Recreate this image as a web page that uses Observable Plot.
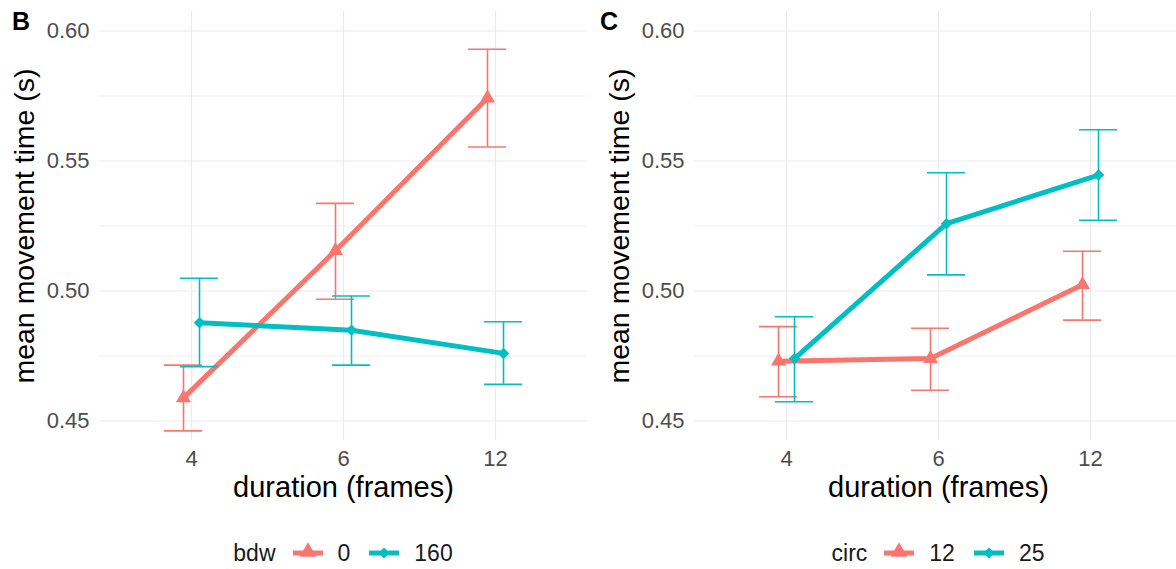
<!DOCTYPE html>
<html>
<head>
<meta charset="utf-8">
<script src="https://cdn.jsdelivr.net/npm/d3@7"></script>
<script src="https://cdn.jsdelivr.net/npm/@observablehq/plot@0.6"></script>
<style>
  html, body { margin: 0; padding: 0; background: #fff; overflow: hidden; }
  #wrap { width: 1176px; height: 569px; overflow: hidden; display: flex; font-family: "Liberation Sans", Arial, sans-serif; }
  .panel { position: relative; flex: none; }
  .letter { position: absolute; top: 9px; font-weight: bold; font-size: 25px; line-height: 25px; color: #000; }
  .legend { display: flex; align-items: center; height: 59px; font-size: 23px; color: #1a1a1a; padding-top: 27px; box-sizing: border-box; }
  .legend span { margin-right: 12px; }
  .legend svg { margin-right: 14px; }
</style>
</head>
<body>
<div id="wrap"></div>
<script>
// ---- data ----
const durations = ["4", "6", "12"];
const yTicksMajor = [0.45, 0.50, 0.55, 0.60];
const yTicksMinor = [0.475, 0.525, 0.575];

// Panel B: bdw
const bdwLevels = ["0", "160"];
const bdw0Mean = [0.4589, 0.5155, 0.5742];
const bdw0Lo   = [0.4462, 0.4968, 0.5554];
const bdw0Hi   = [0.4715, 0.5337, 0.5930];
const bdw160Mean = [0.4878, 0.4849, 0.4760];
const bdw160Lo   = [0.4709, 0.4715, 0.4641];
const bdw160Hi   = [0.5049, 0.4981, 0.4882];

// Panel C: circ
const circLevels = ["12", "25"];
const circ12Mean = [0.4730, 0.4740, 0.5024];
const circ12Lo   = [0.4593, 0.4618, 0.4888];
const circ12Hi   = [0.4863, 0.4857, 0.5153];
const circ25Mean = [0.4740, 0.5259, 0.5446];
const circ25Lo   = [0.4574, 0.5062, 0.5272];
const circ25Hi   = [0.4901, 0.5455, 0.5620];

const RED = "#F8766D", CYAN = "#00BFC4";

function rows(mean, lo, hi) {
  return durations.map((d, i) => ({dur: d, mean: mean[i], lo: lo[i], hi: hi[i]}));
}

function seriesMarks(data, color, dx, symbol, r) {
  return [
    Plot.ruleX(data, {x: "dur", y1: "lo", y2: "hi", stroke: color, strokeWidth: 1.6, dx}),
    Plot.ruleY(data, {y: "lo", x1: "dur", x2: "dur", insetLeft: -19, insetRight: -19, stroke: color, strokeWidth: 1.6, dx}),
    Plot.ruleY(data, {y: "hi", x1: "dur", x2: "dur", insetLeft: -19, insetRight: -19, stroke: color, strokeWidth: 1.6, dx}),
    Plot.line(data, {x: "dur", y: "mean", stroke: color, strokeWidth: 5, dx}),
    Plot.dot(data, {x: "dur", y: "mean", symbol, r, fill: color, stroke: "none", dx})
  ];
}

function panel(width, mLeft, mRight, redData, cyanData) {
  return Plot.plot({
    width, height: 510,
    marginLeft: mLeft, marginRight: mRight, marginTop: 11, marginBottom: 70,
    style: {fontFamily: "'Liberation Sans', Arial, sans-serif", fontSize: "22px", color: "#4D4D4D", background: "#fff"},
    x: {type: "point", domain: durations, padding: 0.6, align: 0.5},
    y: {domain: [0.4425, 0.6075]},
    marks: [
      Plot.ruleY(yTicksMinor, {stroke: "#EBEBEB", strokeWidth: 0.8}),
      Plot.ruleY(yTicksMajor, {stroke: "#EBEBEB", strokeWidth: 1.2}),
      Plot.ruleX(durations, {stroke: "#EBEBEB", strokeWidth: 1.2}),
      Plot.axisY({ticks: yTicksMajor, tickFormat: ".2f", tickSize: 0, tickPadding: 10, label: null, fontSize: 22}),
      Plot.axisX({tickSize: 0, tickPadding: 10, label: null, fontSize: 22}),
      ...seriesMarks(redData, RED, -8, "triangle2", 7.2),
      ...seriesMarks(cyanData, CYAN, 8, "diamond2", 5.2),
      Plot.text(["mean movement time (s)"], {frameAnchor: "left", textAnchor: "middle", rotate: -90, dx: -75, fontSize: 28.5, fill: "#000"}),
      Plot.text(["duration (frames)"], {frameAnchor: "bottom", textAnchor: "middle", dy: 56, fontSize: 29, fill: "#000"})
    ]
  });
}

function keySvg(color, shape) {
  const ns = "http://www.w3.org/2000/svg";
  const svg = document.createElementNS(ns, "svg");
  svg.setAttribute("width", 32); svg.setAttribute("height", 22);
  const line = document.createElementNS(ns, "line");
  line.setAttribute("x1", 1); line.setAttribute("x2", 31); line.setAttribute("y1", 11); line.setAttribute("y2", 11);
  line.setAttribute("stroke", color); line.setAttribute("stroke-width", 5);
  svg.appendChild(line);
  const p = document.createElementNS(ns, "path");
  const sym = shape === "triangle" ? d3.symbolTriangle2 : d3.symbolDiamond2;
  const size = shape === "triangle" ? Math.PI * 8 * 8 : Math.PI * 5 * 5;
  p.setAttribute("d", d3.symbol(sym, size)());
  p.setAttribute("transform", shape === "triangle" ? "translate(16,10)" : "translate(16,11)");
  p.setAttribute("fill", color);
  svg.appendChild(p);
  return svg;
}

function legend(title, levels, frameLeft, frameRight) {
  const div = document.createElement("div");
  div.className = "legend";
  div.style.justifyContent = "center";
  div.style.marginLeft = frameLeft + "px";
  div.style.width = (frameRight - frameLeft) + "px";
  const t = document.createElement("span"); t.textContent = title; t.style.marginRight = "16px";
  div.appendChild(t);
  levels.forEach((lv, i) => {
    div.appendChild(keySvg(i === 0 ? RED : CYAN, i === 0 ? "triangle" : "diamond"));
    const s = document.createElement("span"); s.textContent = lv; s.style.marginRight = i === 0 ? "18px" : "0";
    div.appendChild(s);
  });
  return div;
}

function makePanel(letter, width, mLeft, mRight, redData, cyanData, title, levels) {
  const p = document.createElement("div");
  p.className = "panel";
  p.style.width = width + "px";
  p.appendChild(panel(width, mLeft, mRight, redData, cyanData));
  p.appendChild(legend(title, levels, mLeft, width - mRight));
  const l = document.createElement("div");
  l.className = "letter"; l.textContent = letter; l.style.left = "12px";
  p.appendChild(l);
  return p;
}

const wrap = document.getElementById("wrap");
wrap.appendChild(makePanel("B", 588, 99, 1, rows(bdw0Mean, bdw0Lo, bdw0Hi), rows(bdw160Mean, bdw160Lo, bdw160Hi), "bdw", bdwLevels));
wrap.appendChild(makePanel("C", 600, 106, 6, rows(circ12Mean, circ12Lo, circ12Hi), rows(circ25Mean, circ25Lo, circ25Hi), "circ", circLevels));
</script>
</body>
</html>
